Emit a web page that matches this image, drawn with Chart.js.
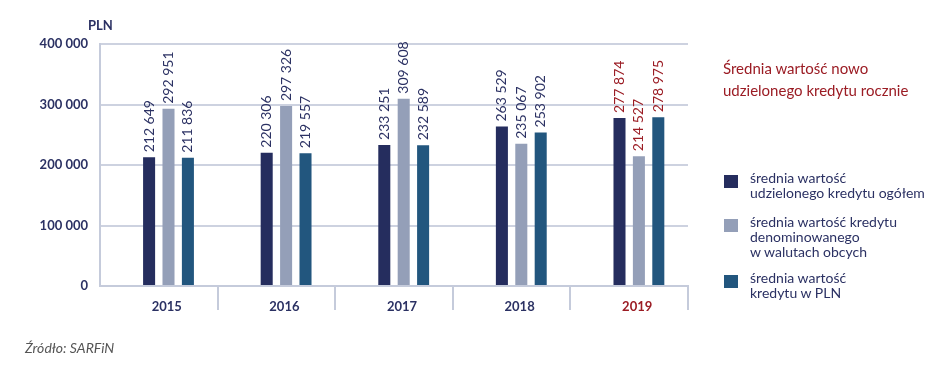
<!DOCTYPE html>
<html><head><meta charset="utf-8">
<script src="https://cdn.jsdelivr.net/npm/chart.js@4"></script>
<style>
html,body{margin:0;padding:0;background:#fff;width:945px;height:380px;overflow:hidden;font-family:Lato,"Open Sans",sans-serif;}
#wrap{position:absolute;left:0;top:0;width:945px;height:380px;}
.t{position:absolute;white-space:nowrap;}
#title{left:723px;top:57px;color:#9b1c24;font-size:15px;line-height:22px;}
.leg{position:absolute;left:724px;}
.sw{position:absolute;left:0;top:5px;width:14px;height:13px;}
.lt{position:absolute;left:26px;top:0;color:#2b3163;font-size:14px;line-height:15px;white-space:nowrap;}
#src{left:25px;top:339px;color:#555;font-size:14px;font-style:italic;}
#pln{left:88px;top:17px;color:#2b3163;font-size:13px;font-weight:bold;}
</style></head>
<body>
<div id="wrap"><canvas id="c" width="945" height="380"></canvas></div>
<div class="t" id="pln">PLN</div>
<div class="t" id="title">Średnia wartość nowo<br>udzielonego kredytu rocznie</div>
<div class="leg" style="top:170px"><div class="sw" style="background:#252d5e"></div><div class="lt">średnia wartość<br>udzielonego kredytu ogółem</div></div>
<div class="leg" style="top:214px"><div class="sw" style="background:#949fb8"></div><div class="lt">średnia wartość kredytu<br>denominowanego<br>w walutach obcych</div></div>
<div class="leg" style="top:270px"><div class="sw" style="background:#22567e"></div><div class="lt">średnia wartość<br>kredytu w PLN</div></div>
<div class="t" id="src">Źródło: SARFiN</div>
<script>
const years = ['2015','2016','2017','2018','2019'];
const totalAvg = [212649, 220306, 233251, 263529, 277874];
const foreignAvg = [292951, 297326, 309608, 235067, 214527];
const plnAvg = [211836, 219557, 232589, 253902, 278975];
const yTicks = [0, 100000, 200000, 300000, 400000];
const seriesNames = ['średnia wartość udzielonego kredytu ogółem','średnia wartość kredytu denominowanego w walutach obcych','średnia wartość kredytu w PLN'];
const spacer = [null, null, null, null, null];

const NAVY = '#2b3163', RED = '#9b1c24';
const fmt = v => String(v).replace(/\B(?=(\d{3})+(?!\d))/g, ' ');

const valueLabels = {
  id: 'valueLabels',
  afterDatasetsDraw(chart) {
    const ctx = chart.ctx;
    ctx.save();
    ctx.font = '14px Lato, sans-serif';
    ctx.textAlign = 'left';
    ctx.textBaseline = 'middle';
    chart.data.datasets.forEach((ds, di) => {
      if (ds.isSpacer) return;
      const meta = chart.getDatasetMeta(di);
      meta.data.forEach((el, i) => {
        if (ds.data[i] == null) return;
        ctx.save();
        ctx.fillStyle = (i === years.length - 1) ? RED : NAVY;
        ctx.translate(el.x, el.y - 5);
        ctx.rotate(-Math.PI / 2);
        ctx.fillText(fmt(ds.data[i]), 0, 0);
        ctx.restore();
      });
    });
    ctx.restore();
  }
};

new Chart(document.getElementById('c'), {
  type: 'bar',
  data: {
    labels: years,
    datasets: [
      {label: '', data: spacer, backgroundColor: 'rgba(0,0,0,0)', isSpacer: true},
      {label: seriesNames[0], data: totalAvg, backgroundColor: '#252d5e'},
      {label: seriesNames[1], data: foreignAvg, backgroundColor: '#949fb8'},
      {label: seriesNames[2], data: plnAvg, backgroundColor: '#22567e'}
    ]
  },
  options: {
    responsive: false,
    animation: false,
    devicePixelRatio: 1,
    layout: {padding: {top: 44, right: 257, left: 0, bottom: 0}},
    plugins: {legend: {display: false}, tooltip: {enabled: false}},
    datasets: {bar: {categoryPercentage: 0.66, barPercentage: 0.62}},
    scales: {
      x: {
        offset: true,
        grid: {
          offset: true,
          drawOnChartArea: false,
          drawTicks: true,
          tickLength: 24,
          lineWidth: 2,
          color: c => (c.index === 0 || c.index === years.length) ? 'rgba(0,0,0,0)' : '#c5cbdb'
        },
        border: {display: true, color: '#c5cbdb', width: 2},
        ticks: {
          padding: -11,
          labelOffset: 8,
          font: {family: 'Lato', size: 13, weight: 'bold'},
          color: c => (c.index === years.length - 1) ? RED : NAVY
        },
        afterFit: s => { s.height = 94; }
      },
      y: {
        min: 0, max: 400000,
        afterBuildTicks: s => { s.ticks = yTicks.map(v => ({value: v})); },
        grid: {drawTicks: false, color: '#cdd2e0', lineWidth: 2},
        border: {display: true, color: '#c5cbdb', width: 2},
        ticks: {
          padding: 12,
          font: {family: 'Lato', size: 13, weight: 'bold'},
          color: NAVY,
          callback: v => fmt(v)
        },
        afterFit: s => { s.width = 100; }
      }
    }
  },
  plugins: [valueLabels]
});
</script>
</body></html>
